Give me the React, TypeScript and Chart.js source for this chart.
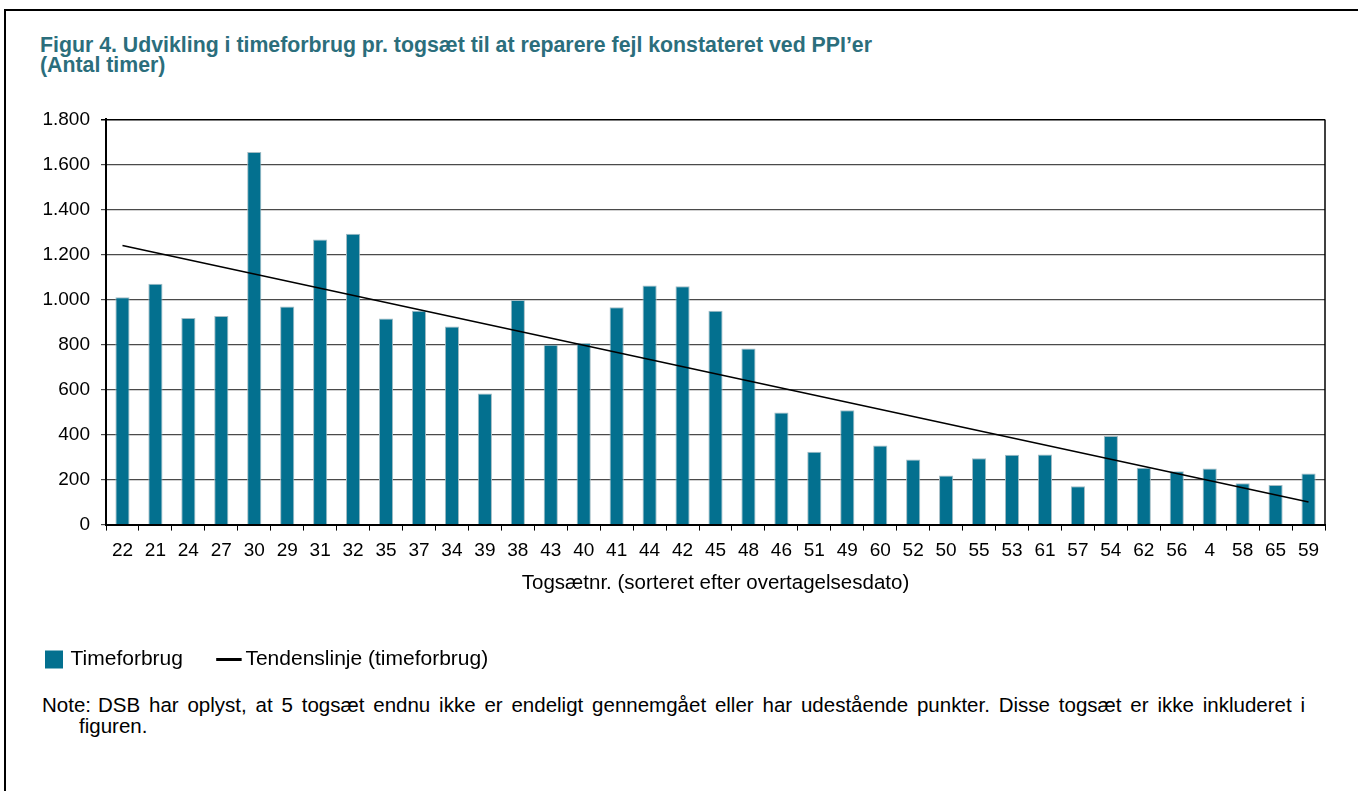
import React, { useEffect, useRef } from "react";
import { Chart, registerables } from "chart.js";

Chart.register(...registerables);

const categories = ["22","21","24","27","30","29","31","32","35","37","34","39","38","43","40","41","44","42","45","48","46","51","49","60","52","50","55","53","61","57","54","62","56","4","58","65","59"];
const timeforbrug = [1010,1070,918,927,1655,969,1267,1292,916,950,880,582,998,799,807,966,1062,1059,950,782,498,324,508,351,289,218,295,310,311,170,394,253,237,249,184,176,227];
const trendStart = 1240;
const trendEnd = 100;
const yTicks = [0, 200, 400, 600, 800, 1000, 1200, 1400, 1600, 1800];

const BAR = "#03708f";
const FONT = "'Liberation Sans', Arial, sans-serif";

const fmt = (v: number) => String(v).replace(/\B(?=(\d{3})+(?!\d))/g, ".");

const rightBorder = {
  id: "rightBorder",
  afterDraw(chart: any) {
    const { ctx, chartArea } = chart;
    ctx.save();
    ctx.strokeStyle = "#000";
    ctx.lineWidth = 1.5;
    ctx.beginPath();
    ctx.moveTo(chartArea.right, chartArea.top);
    ctx.lineTo(chartArea.right, chartArea.bottom);
    ctx.stroke();
    ctx.restore();
  },
};

export default function App() {
  const ref = useRef<HTMLCanvasElement>(null);

  useEffect(() => {
    if (!ref.current) return;
    Chart.defaults.font.family = FONT;
    const trend = categories.map((_, i) =>
      i === 0 ? trendStart : i === categories.length - 1 ? trendEnd : null
    );
    const chart = new Chart(ref.current, {
      type: "bar",
      data: {
        labels: categories,
        datasets: [
          {
            type: "bar",
            label: "Timeforbrug",
            data: timeforbrug,
            backgroundColor: BAR,
            borderColor: "#a3bcc4",
            borderWidth: 1,
            barPercentage: 0.43,
            categoryPercentage: 1,
            order: 1,
          } as any,
          {
            type: "line",
            label: "Tendenslinje (timeforbrug)",
            data: trend,
            borderColor: "#000",
            borderWidth: 1.5,
            pointRadius: 0,
            spanGaps: true,
            fill: false,
            order: 0,
          } as any,
        ],
      },
      options: {
        responsive: false,
        animation: false,
        layout: { padding: { left: 8, right: 33, top: 6, bottom: 0 } },
        plugins: {
          tooltip: { enabled: false },
          legend: {
            position: "bottom",
            align: "start",
            labels: {
              color: "#000",
              font: { size: 21, family: FONT },
              padding: 40,
              boxHeight: 18,
              boxWidth: 12,
              usePointStyle: true,
              generateLabels: () => [
                { text: "Timeforbrug", fillStyle: BAR, strokeStyle: BAR, lineWidth: 0, pointStyle: "rect", hidden: false, datasetIndex: 0, fontColor: "#000" } as any,
                { text: "Tendenslinje (timeforbrug)", fillStyle: "#000", strokeStyle: "#000", lineWidth: 3, pointStyle: "line", hidden: false, datasetIndex: 1, fontColor: "#000" } as any,
              ],
            },
          },
        },
        scales: {
          x: {
            offset: true,
            grid: {
              display: true,
              offset: true,
              drawOnChartArea: false,
              drawTicks: true,
              tickLength: 6,
              color: "#000",
              lineWidth: 1,
            },
            border: { display: true, color: "#000", width: 2 },
            ticks: { color: "#000", font: { size: 19 }, padding: 9, maxRotation: 0, autoSkip: false },
            title: {
              display: true,
              text: "Togsætnr. (sorteret efter overtagelsesdato)",
              color: "#000",
              font: { size: 20.5 },
              padding: { top: 0, bottom: 13 },
            },
          },
          y: {
            min: 0,
            max: 1800,
            afterBuildTicks: (scale: any) => {
              scale.ticks = yTicks.map((v) => ({ value: v }));
            },
            afterFit: (scale: any) => {
              scale.width = 98;
            },
            grid: {
              color: (c: any) => (c.tick && c.tick.value === 1800 ? "#000" : "#4a4a4a"),
              lineWidth: (c: any) => (c.tick && c.tick.value === 1800 ? 1.5 : 1.2),
              tickLength: 5,
            },
            border: { display: true, color: "#000", width: 2 },
            ticks: {
              color: "#000",
              font: { size: 19 },
              padding: 11,
              callback: (v: any) => fmt(Number(v)),
            },
          },
        },
      },
      plugins: [rightBorder],
    });
    return () => chart.destroy();
  }, []);

  return (
    <div style={{ position: "fixed", left: 0, top: 0, width: 1358, height: 791, overflow: "hidden", background: "#fff", fontFamily: FONT }}>
      <div style={{ position: "absolute", left: 4, top: 9, width: 1500, height: 1000, border: "2px solid #000" }} />
      <div style={{ position: "absolute", left: 40, top: 35, color: "#2b6e7c", fontWeight: "bold", fontSize: 21.3, lineHeight: "20px", whiteSpace: "nowrap" }}>
        Figur 4. Udvikling i timeforbrug pr. togsæt til at reparere fejl konstateret ved PPI’er
        <br />
        (Antal timer)
      </div>
      <canvas ref={ref} width={1358} height={583} style={{ position: "absolute", left: 0, top: 97 }} />
      <div style={{ position: "absolute", left: 42, top: 694, width: 1263, fontSize: 20.5, lineHeight: "21px", color: "#000" }}>
        <div style={{ textAlign: "justify", textAlignLast: "justify", whiteSpace: "normal" } as any}>
          <span style={{ display: "inline-block", width: 56 }}>Note:</span>DSB har oplyst, at 5 togsæt endnu ikke er endeligt gennemgået eller har udestående punkter. Disse togsæt er ikke inkluderet i
        </div>
        <div style={{ paddingLeft: 37 }}>figuren.</div>
      </div>
    </div>
  );
}
